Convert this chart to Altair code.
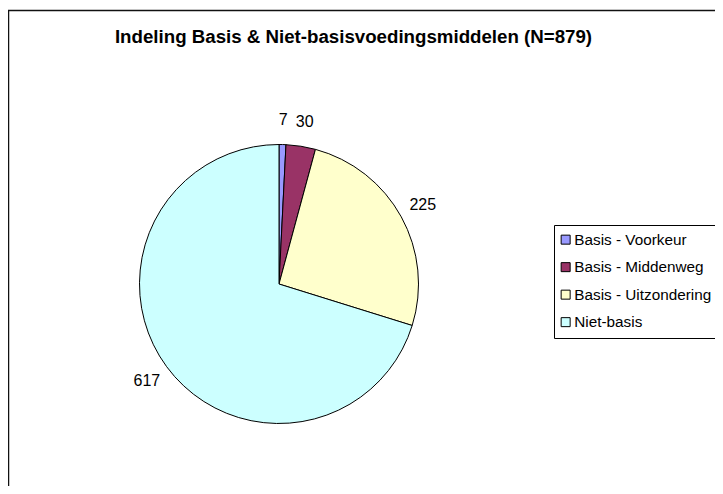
import altair as alt
import pandas as pd

# ---- data ----
categories = ["Basis - Voorkeur", "Basis - Middenweg", "Basis - Uitzondering", "Niet-basis"]
counts = [7, 30, 225, 617]
colors = ["#9999FF", "#993366", "#FFFFCC", "#CCFFFF"]
title_text = "Indeling Basis & Niet-basisvoedingsmiddelen (N=879)"

df = pd.DataFrame({
    "categorie": categories,
    "aantal": counts,
    "volgorde": list(range(len(categories))),
})

W, H = 707, 478
CX, CY, R = 271, 276, 139.5
FONT = "Liberation Sans"

base = alt.Chart(df).encode(
    theta=alt.Theta("aantal:Q", stack=True),
    order=alt.Order("volgorde:Q", sort="ascending"),
)

pie = base.mark_arc(stroke="black", strokeWidth=1, outerRadius=R).encode(
    x=alt.value(CX),
    y=alt.value(CY),
    color=alt.Color(
        "categorie:N",
        title=None,
        sort=categories,
        scale=alt.Scale(domain=categories, range=colors),
        legend=alt.Legend(
            orient="none",
            legendX=546,
            legendY=217,
            strokeColor="black",
            fillColor="white",
            padding=7,
            symbolType="square",
            symbolSize=81,
            symbolStrokeColor="black",
            symbolStrokeWidth=1,
            symbolOpacity=1,
            symbolOffset=-3,
            labelFont=FONT,
            labelFontSize=15.3,
            labelColor="black",
            labelOffset=1,
            rowPadding=11.5,
            labelLimit=400,
        ),
    ),
)

labels = base.mark_text(
    radius=164, fontSize=16, font=FONT, color="black", align="center", baseline="middle"
).encode(
    x=alt.value(CX),
    y=alt.value(CY),
    text=alt.Text("aantal:Q"),
)

frame_df = pd.DataFrame({"k": [0]})
frame_left = alt.Chart(frame_df).mark_rule(color="#111111", strokeWidth=1.5).encode(
    x=alt.value(0.5), y=alt.value(2.5), y2=alt.value(H)
)
frame_top = alt.Chart(frame_df).mark_rule(color="#111111", strokeWidth=1.5).encode(
    x=alt.value(0), x2=alt.value(W), y=alt.value(2.5)
)

chart = alt.layer(frame_left, frame_top, pie, labels).properties(
    width=W,
    height=H,
    padding=0,
    autosize=alt.AutoSizeParams(type="none"),
    title=alt.TitleParams(
        text=title_text,
        font=FONT,
        fontSize=18.7,
        fontWeight="bold",
        color="black",
        anchor="middle",
        baseline="alphabetic",
        offset=-54,
        dx=-8,
    ),
).configure_view(stroke="transparent")

chart.save("out.html", embed_options={"renderer": "svg", "actions": False})
